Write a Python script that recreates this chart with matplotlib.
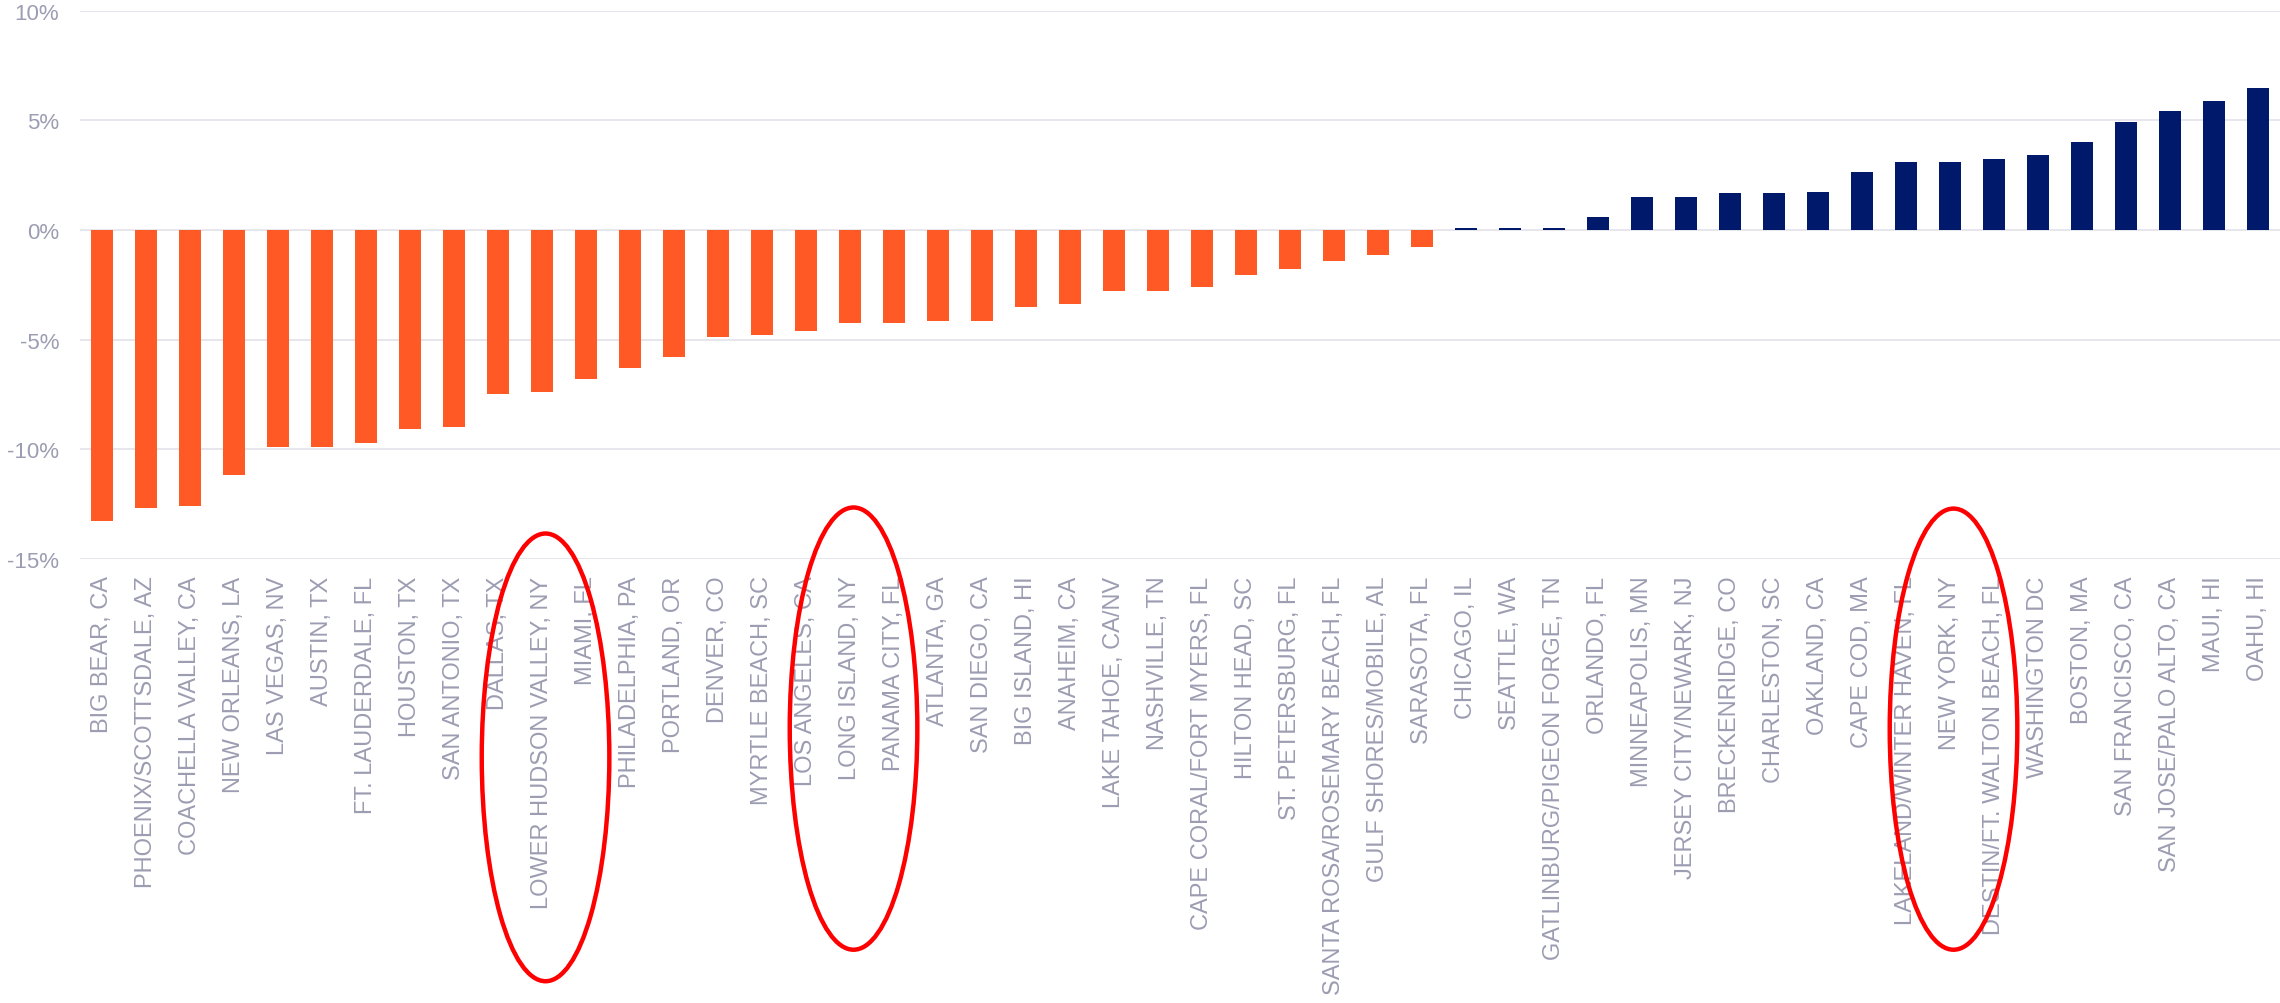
import numpy as np
import matplotlib
matplotlib.use("Agg")
import matplotlib.pyplot as plt
import matplotlib.ticker as ticker
from matplotlib.patches import Ellipse
from matplotlib.transforms import blended_transform_factory

plt.rcParams["font.family"] = ["Liberation Sans", "DejaVu Sans"]
plt.rcParams["axes.unicode_minus"] = False

# Markets, ordered by change (%)
markets = [
    "BIG BEAR, CA", "PHOENIX/SCOTTSDALE, AZ", "COACHELLA VALLEY, CA", "NEW ORLEANS, LA",
    "LAS VEGAS, NV", "AUSTIN, TX", "FT. LAUDERDALE, FL", "HOUSTON, TX", "SAN ANTONIO, TX",
    "DALLAS, TX", "LOWER HUDSON VALLEY, NY", "MIAMI, FL", "PHILADELPHIA, PA", "PORTLAND, OR",
    "DENVER, CO", "MYRTLE BEACH, SC", "LOS ANGELES, CA", "LONG ISLAND, NY", "PANAMA CITY, FL",
    "ATLANTA, GA", "SAN DIEGO, CA", "BIG ISLAND, HI", "ANAHEIM, CA", "LAKE TAHOE, CA/NV",
    "NASHVILLE, TN", "CAPE CORAL/FORT MYERS, FL", "HILTON HEAD, SC", "ST. PETERSBURG, FL",
    "SANTA ROSA/ROSEMARY BEACH, FL", "GULF SHORES/MOBILE, AL", "SARASOTA, FL", "CHICAGO, IL",
    "SEATTLE, WA", "GATLINBURG/PIGEON FORGE, TN", "ORLANDO, FL", "MINNEAPOLIS, MN",
    "JERSEY CITY/NEWARK, NJ", "BRECKENRIDGE, CO", "CHARLESTON, SC", "OAKLAND, CA",
    "CAPE COD, MA", "LAKELAND/WINTER HAVEN, FL", "NEW YORK, NY", "DESTIN/FT. WALTON BEACH, FL",
    "WASHINGTON DC", "BOSTON, MA", "SAN FRANCISCO, CA", "SAN JOSE/PALO ALTO, CA", "MAUI, HI",
    "OAHU, HI",
]
change_pct = [
    -13.3, -12.7, -12.6, -11.2, -9.9, -9.9, -9.7, -9.1, -9.0,
    -7.5, -7.4, -6.8, -6.3, -5.8,
    -4.9, -4.8, -4.6, -4.25, -4.25,
    -4.15, -4.15, -3.5, -3.4, -2.8,
    -2.8, -2.6, -2.05, -1.8,
    -1.4, -1.15, -0.78, 0.1,
    0.1, 0.1, 0.57, 1.5,
    1.5, 1.67, 1.67, 1.75,
    2.66, 3.12, 3.12, 3.22,
    3.41, 4.03, 4.94, 5.41, 5.87,
    6.49,
]
y_ticks = [-15, -10, -5, 0, 5, 10]
highlighted = ["LOWER HUDSON VALLEY, NY", "LONG ISLAND, NY", "NEW YORK, NY"]

ORANGE = "#FF5A26"
NAVY = "#00196B"
LABEL_GREY = "#9C9DB2"
GRID_GREY = "#E4E4EA"

fig = plt.figure(figsize=(22.8, 10.04), dpi=100)
ax = fig.add_axes([0.0351, 0.4425, 0.9649, 0.5458])

x = np.arange(len(markets))
vals = np.array(change_pct)
colors = [ORANGE if v < 0 else NAVY for v in vals]
ax.bar(x, vals, width=0.5, color=colors, zorder=3)

ax.set_xlim(-0.5, len(markets) - 0.5)
ax.set_ylim(-15, 10)
ax.set_yticks(y_ticks)
ax.yaxis.set_major_formatter(ticker.FuncFormatter(lambda v, p: f"{v:.0f}%"))
ax.grid(True, axis="y", color=GRID_GREY, linewidth=1.3, zorder=0)
ax.set_axisbelow(True)
for s in ax.spines.values():
    s.set_visible(False)

ax.set_xticks(x)
ax.set_xticklabels(markets, rotation=90, fontsize=17.0, color=LABEL_GREY)
ax.tick_params(axis="x", length=0, pad=12)
ax.tick_params(axis="y", length=0, pad=15, labelsize=16, labelcolor=LABEL_GREY)

# red ellipses around the highlighted labels (x in data, y in axes fraction)
trans = blended_transform_factory(ax.transData, ax.transAxes)
ell_shape = {
    "LOWER HUDSON VALLEY, NY": (-0.3625, 0.817),
    "LONG ISLAND, NY": (-0.310, 0.807),
    "NEW YORK, NY": (-0.311, 0.805),
}
for name in highlighted:
    i = markets.index(name)
    cy, h = ell_shape[name]
    e = Ellipse((i + 0.08, cy), width=2.9, height=h, transform=trans,
                fill=False, edgecolor="#FF0000", linewidth=3.2,
                clip_on=False, zorder=10)
    ax.add_artist(e)

fig.savefig("out.png", dpi=100)
